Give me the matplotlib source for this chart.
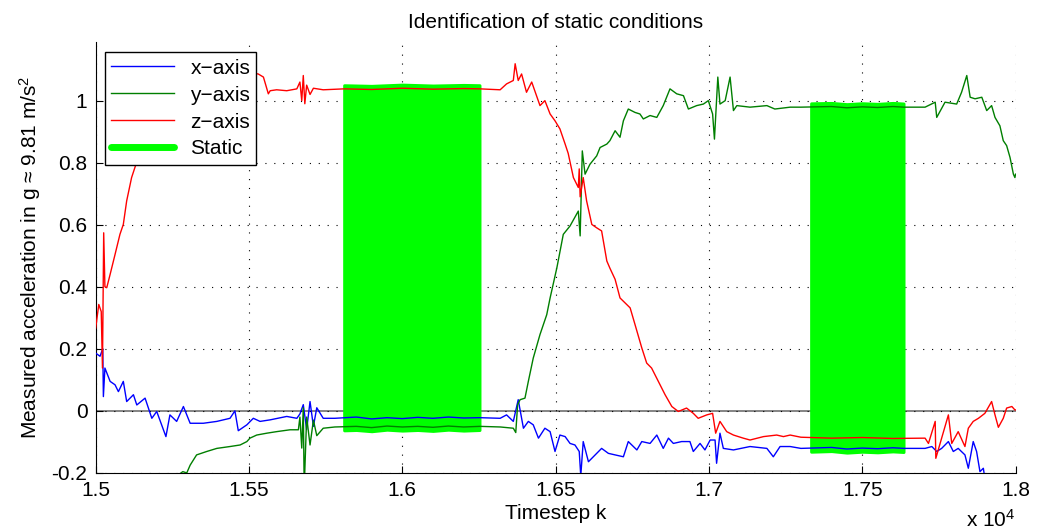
import numpy as np
import matplotlib
matplotlib.use("Agg")
import matplotlib.pyplot as plt

plt.rcParams['font.family'] = ['Liberation Sans', 'DejaVu Sans']
plt.rcParams['mathtext.fontset'] = 'custom'
plt.rcParams['mathtext.rm'] = 'Liberation Sans'
plt.rcParams['mathtext.it'] = 'Liberation Sans'

# x-axis acceleration (blue)
x_k = [15000, 15014, 15023, 15025, 15030, 15047, 15063, 15074, 15090, 15101, 15123, 15134,
       15161, 15183, 15199, 15229, 15242, 15264, 15286, 15308, 15351, 15395, 15438, 15454,
       15465, 15493, 15514, 15536, 15569, 15623, 15656, 15666, 15677, 15688, 15699, 15710,
       15721, 15742, 15780, 15850, 15900, 15950, 16000, 16050, 16100, 16150, 16200, 16253,
       16319, 16340, 16362, 16378, 16395, 16411, 16427, 16444, 16465, 16482, 16498, 16514,
       16531, 16547, 16563, 16577, 16582, 16590, 16607, 16623, 16650, 16672, 16694, 16721,
       16737, 16765, 16781, 16808, 16830, 16851, 16868, 16884, 16911, 16938, 16949, 16971,
       16987, 17004, 17020, 17025, 17036, 17047, 17080, 17134, 17189, 17210, 17232, 17265,
       17300, 17400, 17450, 17500, 17550, 17600, 17636, 17705, 17727, 17743, 17759, 17781,
       17797, 17813, 17835, 17846, 17862, 17873, 17884, 17895, 17900, 17950, 18000]
x_val = [0.186, 0.176, 0.200, 0.046, 0.138, 0.095, 0.084, 0.062, 0.095, 0.030, 0.052, 0.019,
         0.041, -0.024, -0.002, -0.083, -0.013, -0.034, 0.014, -0.040, -0.040, -0.034, -0.024, 0.000,
         -0.064, -0.045, -0.024, -0.034, -0.029, -0.018, -0.024, -0.010, 0.020, -0.060, 0.030, -0.050,
         0.010, -0.024, -0.024, -0.020, -0.026, -0.022, -0.025, -0.021, -0.024, -0.020, -0.023, -0.022,
         -0.024, -0.013, -0.034, 0.036, -0.056, -0.034, -0.045, -0.088, -0.056, -0.067, -0.131, -0.078,
         -0.083, -0.105, -0.110, -0.131, -0.210, -0.099, -0.164, -0.148, -0.121, -0.137, -0.142, -0.148,
         -0.099, -0.126, -0.099, -0.105, -0.078, -0.121, -0.088, -0.105, -0.099, -0.099, -0.131, -0.105,
         -0.126, -0.094, -0.094, -0.169, -0.072, -0.121, -0.126, -0.115, -0.121, -0.148, -0.115, -0.115,
         -0.121, -0.118, -0.123, -0.120, -0.122, -0.119, -0.121, -0.121, -0.115, -0.131, -0.121, -0.099,
         -0.131, -0.121, -0.142, -0.185, -0.099, -0.131, -0.196, -0.185, -0.218, -0.240, -0.250]

# y-axis acceleration (green)
y_k = [15000, 15150, 15250, 15284, 15297, 15308, 15329, 15362, 15395, 15438, 15471, 15493,
       15503, 15525, 15558, 15590, 15634, 15661, 15666, 15672, 15677, 15680, 15688, 15699,
       15710, 15721, 15742, 15780, 15850, 15900, 15950, 16000, 16050, 16100, 16150, 16200,
       16253, 16320, 16362, 16370, 16376, 16384, 16400, 16411, 16427, 16449, 16471, 16482,
       16504, 16525, 16547, 16574, 16580, 16587, 16596, 16612, 16634, 16645, 16667, 16677,
       16694, 16710, 16721, 16737, 16759, 16775, 16786, 16808, 16830, 16851, 16873, 16895,
       16917, 16933, 16960, 16982, 16998, 17012, 17018, 17029, 17036, 17053, 17069, 17080,
       17091, 17134, 17189, 17215, 17265, 17300, 17400, 17450, 17500, 17550, 17600, 17636,
       17705, 17738, 17743, 17770, 17808, 17824, 17841, 17852, 17868, 17890, 17906, 17922,
       17933, 17949, 17960, 17971, 17982, 17993, 17998, 18000]
y_val = [-0.450, -0.300, -0.220, -0.196, -0.200, -0.175, -0.142, -0.131, -0.121, -0.115, -0.110, -0.099,
         -0.088, -0.078, -0.072, -0.067, -0.061, -0.061, -0.020, -0.120, 0.010, -0.250, -0.020, -0.110,
         -0.030, -0.080, -0.056, -0.052, -0.050, -0.054, -0.049, -0.052, -0.050, -0.053, -0.049, -0.052,
         -0.050, -0.052, -0.056, -0.070, 0.019, 0.036, 0.041, 0.095, 0.170, 0.246, 0.310, 0.364,
         0.461, 0.569, 0.596, 0.644, 0.564, 0.838, 0.763, 0.795, 0.822, 0.849, 0.860, 0.871,
         0.903, 0.882, 0.935, 0.973, 0.962, 0.957, 0.941, 0.952, 0.946, 0.984, 1.038, 1.022,
         1.016, 0.973, 0.984, 0.989, 1.000, 0.957, 0.876, 1.076, 0.989, 1.000, 1.076, 0.968,
         0.984, 0.979, 0.984, 0.973, 0.979, 0.979, 0.981, 0.977, 0.980, 0.978, 0.981, 0.979,
         0.979, 0.995, 0.946, 0.995, 0.989, 1.027, 1.081, 1.011, 1.006, 1.011, 0.968, 0.984,
         0.946, 0.919, 0.871, 0.855, 0.817, 0.763, 0.752, 0.763]

# z-axis acceleration (red)
z_k = [15000, 15010, 15018, 15022, 15026, 15030, 15036, 15047, 15063, 15079, 15090, 15101,
       15117, 15128, 15150, 15200, 15260, 15340, 15430, 15500, 15530, 15547, 15563, 15569,
       15590, 15623, 15656, 15666, 15672, 15677, 15682, 15688, 15699, 15710, 15742, 15810,
       15900, 16000, 16100, 16200, 16253, 16319, 16340, 16362, 16368, 16378, 16389, 16405,
       16422, 16449, 16465, 16482, 16498, 16514, 16531, 16541, 16558, 16574, 16577, 16580,
       16590, 16601, 16618, 16634, 16650, 16667, 16677, 16694, 16710, 16743, 16759, 16781,
       16797, 16813, 16835, 16857, 16879, 16900, 16927, 16949, 16965, 16993, 17012, 17022,
       17036, 17058, 17080, 17112, 17134, 17178, 17221, 17243, 17265, 17300, 17400, 17500,
       17600, 17705, 17716, 17738, 17740, 17759, 17781, 17792, 17813, 17835, 17846, 17862,
       17879, 17900, 17922, 17933, 17944, 17960, 17971, 17988, 17998, 18000]
z_val = [0.267, 0.343, 0.320, 0.138, 0.574, 0.400, 0.397, 0.440, 0.504, 0.569, 0.601, 0.677,
         0.752, 0.785, 0.850, 0.980, 1.080, 1.100, 1.090, 1.090, 1.086, 1.076, 1.022, 1.032,
         1.035, 1.032, 1.038, 1.060, 1.000, 1.081, 0.990, 1.050, 1.020, 1.040, 1.035, 1.038,
         1.036, 1.040, 1.037, 1.039, 1.038, 1.035, 1.054, 1.065, 1.119, 1.065, 1.086, 1.027,
         1.060, 0.984, 1.000, 0.957, 0.935, 0.909, 0.860, 0.830, 0.752, 0.720, 0.780, 0.690,
         0.752, 0.677, 0.601, 0.590, 0.580, 0.483, 0.460, 0.424, 0.364, 0.332, 0.278, 0.203,
         0.154, 0.138, 0.095, 0.052, 0.014, -0.002, 0.009, -0.008, -0.024, -0.013, -0.008, -0.072,
         -0.034, -0.067, -0.078, -0.088, -0.094, -0.083, -0.078, -0.083, -0.078, -0.085, -0.088, -0.086,
         -0.089, -0.088, -0.105, -0.034, -0.153, -0.088, -0.013, -0.105, -0.067, -0.115, -0.056, -0.034,
         -0.024, -0.008, 0.030, -0.013, -0.053, -0.024, 0.009, 0.014, 0.003, 0.003]

# detected static intervals (timesteps)
static_start = [15810, 17333]
static_end = [16253, 17636]

xticks = [15000, 15500, 16000, 16500, 17000, 17500, 18000]
yticks = [-0.2, 0, 0.2, 0.4, 0.6, 0.8, 1]

fs = 15

fig = plt.figure(figsize=(10.37, 5.32), dpi=100)
fig.patch.set_facecolor('white')
ax = fig.add_axes([0.0923, 0.1111, 0.887, 0.8105])

ax.axhline(0, color='#707070', lw=1.2, zorder=1)

# static areas: span between the lowest and highest axis inside each interval
for s, e in zip(static_start, static_end):
    kk = np.arange(s, e + 1, 2)
    sig = np.vstack([np.interp(kk, x_k, x_val), np.interp(kk, y_k, y_val), np.interp(kk, z_k, z_val)])
    ax.fill_between(kk, sig.min(axis=0) - 0.012, sig.max(axis=0) + 0.012,
                    color='#00ff00', lw=2, edgecolor='#00ff00', zorder=2)

ax.plot(x_k, x_val, color='#0000ff', lw=1, label='x\u2212axis', zorder=3)
ax.plot(y_k, y_val, color='#007f00', lw=1, label='y\u2212axis', zorder=3)
ax.plot(z_k, z_val, color='#ff0000', lw=1, label='z\u2212axis', zorder=3)
ax.plot([], [], color='#00ff00', lw=5, solid_capstyle='round', label='Static')

ax.set_xlim(15000, 18000)
ax.set_ylim(-0.2, 1.19)
ax.set_xticks(xticks)
ax.set_xticklabels([f"{t / 1e4:g}" for t in xticks])
ax.set_yticks(yticks)
ax.set_yticklabels([f"{t:g}" for t in yticks])
ax.grid(True, color='black', linestyle=(0, (1, 7)), lw=0.8)
ax.tick_params(direction='in', length=5, labelsize=fs, colors='black', pad=6)
ax.spines['top'].set_visible(False)
ax.spines['right'].set_visible(False)

ax.set_title('Identification of static conditions', fontsize=fs, pad=10)
ax.set_xlabel('Timestep k', fontsize=fs, labelpad=3)
ax.set_ylabel('Measured acceleration in g \u2248 9.81 m/s$^2$', fontsize=fs, labelpad=6)
fig.text(0.979, 0.002, 'x 10$^4$', ha='right', va='bottom', fontsize=fs)

leg = ax.legend(loc='upper left', bbox_to_anchor=(0.01, 0.975), fontsize=fs,
                fancybox=False, framealpha=1, edgecolor='black', handlelength=3.0,
                handletextpad=0.8, labelspacing=0.38, borderpad=0.3, borderaxespad=0)
leg.get_frame().set_linewidth(1)

fig.savefig('out.png', dpi=100)
